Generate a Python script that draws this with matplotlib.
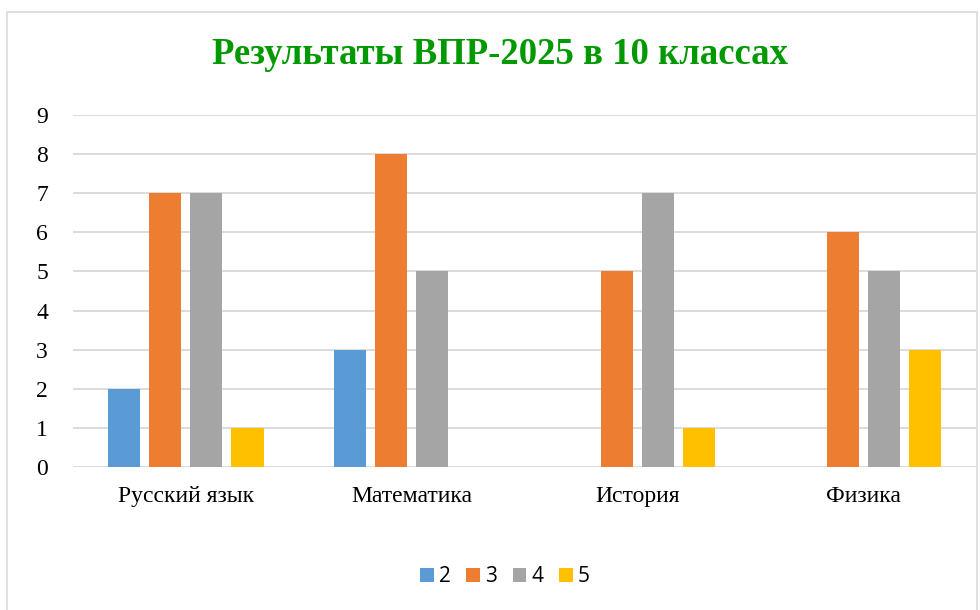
import matplotlib.pyplot as plt
import numpy as np
from matplotlib.patches import Rectangle

# Данные диаграммы
subjects = ['Русский язык', 'Математика', 'История', 'Физика']
grades = ['2', '3', '4', '5']
grade_2 = [2, 3, 0, 0]
grade_3 = [7, 8, 5, 6]
grade_4 = [7, 5, 7, 5]
grade_5 = [1, 0, 1, 3]
yticks = list(range(0, 10))

colors = ['#5B9BD5', '#ED7D31', '#A5A5A5', '#FFC000']
series = [grade_2, grade_3, grade_4, grade_5]

fig = plt.figure(figsize=(9.8, 6.1), dpi=100)

# рамка области диаграммы
fig.patches.append(Rectangle((7 / 980, -0.01), 970 / 980, 1 - 12 / 610 + 0.01,
                             transform=fig.transFigure, fill=False,
                             edgecolor='#d9d9d9', linewidth=1.2))

ax = fig.add_axes([73 / 980, 1 - 467 / 610, 903 / 980, 352 / 610])

x = np.arange(len(subjects))
step = 0.182
width = 0.142
for i, (vals, col, g) in enumerate(zip(series, colors, grades)):
    ax.bar(x + (i - 1.5) * step, vals, width, color=col, label=g, zorder=3)

ax.set_xlim(-0.5, len(subjects) - 0.5)
ax.set_ylim(0, 9)
ax.set_yticks(yticks)
ax.yaxis.grid(True, color='#d9d9d9', linewidth=1.3, zorder=0)
ax.set_xticks(x)
ax.set_xticklabels(subjects, family='Liberation Serif', fontsize=17)
for lab in ax.get_yticklabels():
    lab.set_family('Liberation Serif')
    lab.set_fontsize(17)
ax.tick_params(length=0)
ax.tick_params(axis='x', pad=14)
ax.tick_params(axis='y', pad=18)
for s in ax.spines.values():
    s.set_visible(False)

fig.text(500 / 980, 1 - 54 / 610, 'Результаты ВПР-2025 в 10 классах',
         ha='center', va='center', family='Liberation Serif',
         fontweight='bold', fontsize=26.5, color='#009900')

fig.legend(loc='center', bbox_to_anchor=(505 / 980, 1 - 577 / 610), ncol=4,
           frameon=False, prop={'family': 'Open Sans', 'size': 15},
           handlelength=0.65, handleheight=0.65, handletextpad=0.25,
           columnspacing=0.75)

fig.savefig('out.png', dpi=100)
